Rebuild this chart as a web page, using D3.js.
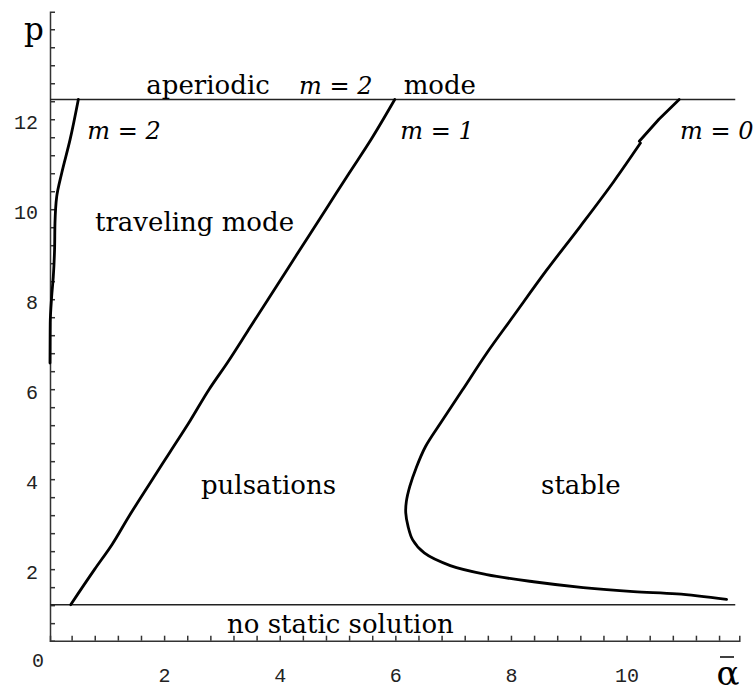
<!DOCTYPE html>
<html>
<head>
<meta charset="utf-8">
<script src="https://cdn.jsdelivr.net/npm/d3@7"></script>
<style>
  body { margin: 0; background: #fff; }
  svg { display: block; }
  .tick text { font-family: "Liberation Mono", monospace; font-size: 20px; fill: #222; }
  .lbl { font-family: "DejaVu Serif", serif; font-size: 26px; fill: #000; }
  .it { font-style: italic; font-size: 24px; }
</style>
</head>
<body>
<svg id="canvas" width="756" height="692"></svg>
<script>
// axis extents (alpha-bar, p)
const xExtent = [0.026, 11.95];
const yExtent = [0.41, 14.39];
const xTickLabels = [2, 4, 6, 8, 10];
const yTickLabels = [2, 4, 6, 8, 10, 12];

// region boundaries
const aperiodicP = 12.44;
const noStaticP = 1.21;

// m = 2 boundary (alpha, p)
const m2Curve = [
  [0.026, 6.58], [0.03, 7.47], [0.055, 8.06], [0.083, 8.5], [0.105, 9.1],
  [0.112, 9.69], [0.142, 10.28], [0.228, 10.8], [0.372, 11.54], [0.516, 12.44]
];

// m = 1 boundary
const m1Curve = [
  [0.384, 1.21], [0.80, 2.0], [1.10, 2.55], [1.38, 3.15], [1.75, 3.9],
  [2.10, 4.6], [2.45, 5.3], [2.78, 6.0], [3.10, 6.6], [3.45, 7.3],
  [3.80, 8.0], [4.15, 8.7], [4.50, 9.4], [4.85, 10.1], [5.20, 10.8],
  [5.58, 11.55], [5.99, 12.44]
];

// m = 0 boundary, upper piece and main piece
const m0Upper = [[10.91, 12.44], [10.56, 12.0], [10.22, 11.51]];
const m0Curve = [
  [10.24, 11.47], [9.77, 10.6], [9.20, 9.62], [8.62, 8.65], [8.04, 7.62],
  [7.58, 6.80], [7.16, 5.98], [6.80, 5.28], [6.52, 4.72], [6.36, 4.25],
  [6.25, 3.84], [6.19, 3.50], [6.18, 3.25], [6.22, 2.95], [6.30, 2.65],
  [6.50, 2.36], [6.95, 2.08], [7.58, 1.88], [8.39, 1.72], [9.25, 1.59],
  [10.12, 1.50], [10.87, 1.45], [11.73, 1.33]
];

// region labels: [text, alpha, p, italic]
const labels = [
  ['aperiodic', 2.76, 12.56, false],
  ['m = 2', 4.97, 12.56, true],
  ['mode', 6.77, 12.56, false],
  ['m = 2', 1.306, 11.56, true],
  ['m = 1', 6.72, 11.56, true],
  ['m = 0', 11.56, 11.56, true],
  ['traveling mode', 2.526, 9.52, false],
  ['pulsations', 3.806, 3.67, false],
  ['stable', 9.21, 3.67, false],
  ['no static solution', 5.05, 0.584, false]
];

const svg = d3.select('#canvas');
const x = d3.scaleLinear().domain(xExtent).range([50, 739.3]);
const y = d3.scaleLinear().domain(yExtent).range([640.7, 11.7]);

// minor ticks every 0.4
const xMinor = d3.range(1, 30).map(i => i * 0.4);
const yMinor = d3.range(2, 36).map(i => i * 0.4);

svg.append('g')
  .attr('transform', `translate(0,${y(yExtent[0])})`)
  .call(d3.axisBottom(x).tickValues(xMinor).tickSize(-5).tickSizeOuter(-5).tickFormat(''))
  .call(g => g.selectAll('path, line').attr('stroke', '#333').attr('stroke-width', 1.5));

svg.append('g')
  .attr('transform', `translate(${x(xExtent[0])},0)`)
  .call(d3.axisLeft(y).tickValues(yMinor).tickSize(-5).tickSizeOuter(-5).tickFormat(''))
  .call(g => g.selectAll('path, line').attr('stroke', '#333').attr('stroke-width', 1.5));

// tick labels
svg.append('g')
  .attr('transform', `translate(0,${y(yExtent[0])})`)
  .call(d3.axisBottom(x).tickValues(xTickLabels).tickSize(0).tickPadding(27))
  .call(g => g.select('.domain').remove());

svg.append('g')
  .attr('transform', `translate(${x(xExtent[0])},0)`)
  .call(d3.axisLeft(y).tickValues(yTickLabels).tickSize(0).tickPadding(12))
  .call(g => g.select('.domain').remove())
  .call(g => g.selectAll('text').attr('dy', '0.45em'));

svg.append('text')
  .attr('x', 38).attr('y', 667)
  .attr('text-anchor', 'middle')
  .style('font-family', '"Liberation Mono", monospace')
  .style('font-size', '20px').attr('fill', '#222')
  .text('0');

// axis names
svg.append('text')
  .attr('x', 34).attr('y', 40)
  .attr('text-anchor', 'middle')
  .style('font-family', '"DejaVu Serif", serif')
  .style('font-size', '31px')
  .text('p');

svg.append('text')
  .attr('x', 728).attr('y', 685)
  .attr('text-anchor', 'middle')
  .style('font-family', '"DejaVu Serif", serif')
  .style('font-size', '34px')
  .text('α');
svg.append('line')
  .attr('x1', 720).attr('x2', 734).attr('y1', 657).attr('y2', 657)
  .attr('stroke', '#000').attr('stroke-width', 1.5);

// boundaries
[aperiodicP, noStaticP].forEach(p => {
  svg.append('line')
    .attr('x1', x(xExtent[0])).attr('x2', x(11.88))
    .attr('y1', y(p)).attr('y2', y(p))
    .attr('stroke', '#222').attr('stroke-width', 1.5);
});

const lineY = d3.line()
  .x(d => x(d[0]))
  .y(d => y(d[1]))
  .curve(d3.curveMonotoneY);

const lineC = d3.line()
  .x(d => x(d[0]))
  .y(d => y(d[1]))
  .curve(d3.curveCatmullRom.alpha(0.5));

const lineL = d3.line()
  .x(d => x(d[0]))
  .y(d => y(d[1]));

[[m2Curve, lineY], [m1Curve, lineY], [m0Upper, lineL], [m0Curve, lineC]].forEach(([c, gen]) => {
  svg.append('path')
    .attr('d', gen(c))
    .attr('fill', 'none')
    .attr('stroke', '#000')
    .attr('stroke-width', 2.8)
    .attr('stroke-linejoin', 'round')
    .attr('stroke-linecap', 'round');
});

// labels
svg.selectAll('.lbl')
  .data(labels)
  .enter()
  .append('text')
  .attr('class', d => (d[3] ? 'lbl it' : 'lbl'))
  .attr('x', d => x(d[1]))
  .attr('y', d => y(d[2]))
  .attr('text-anchor', 'middle')
  .text(d => d[0]);
</script>
</body>
</html>
